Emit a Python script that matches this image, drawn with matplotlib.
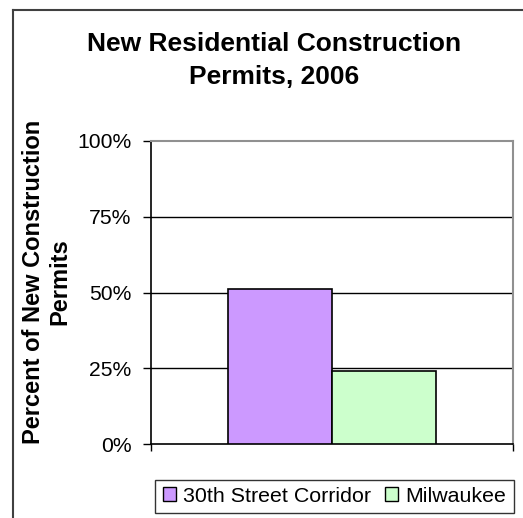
import matplotlib
matplotlib.use("Agg")
import matplotlib.pyplot as plt
from matplotlib.patches import Patch
from matplotlib.lines import Line2D

plt.rcParams['font.family'] = ['Liberation Sans', 'DejaVu Sans']

title = "New Residential Construction\nPermits, 2006"
ylabel = "Percent of New Construction\nPermits"
series = ["30th Street Corridor", "Milwaukee"]
values = [51.1, 24.1]
colors = ["#CC99FF", "#CCFFCC"]
yticks = [0, 25, 50, 75, 100]
yticklabels = ["0%", "25%", "50%", "75%", "100%"]

W, H = 523, 518
fig = plt.figure(figsize=(W / 100, H / 100), dpi=100)
ax = fig.add_axes([151 / W, 74 / H, 362 / W, 303 / H])

bw = 0.2873
offsets = [-bw / 2, bw / 2]
for name, v, c, off in zip(series, values, colors, offsets):
    ax.bar(off, v, width=bw, color=c, edgecolor="black", linewidth=1.2, label=name, zorder=3)

ax.set_xlim(-0.5, 0.5)
ax.set_ylim(0, 100)
ax.set_yticks(yticks)
ax.set_yticklabels(yticklabels, fontsize=15.2)
ax.tick_params(axis="y", direction="out", length=6, width=1, pad=8)
ax.set_xticks([-0.5, 0.5])
ax.set_xticklabels([])
ax.tick_params(axis="x", direction="out", length=5, width=1)
for y in [25, 50, 75]:
    ax.axhline(y, color="black", linewidth=1, zorder=1)
for s in ["left", "bottom"]:
    ax.spines[s].set_color("black")
    ax.spines[s].set_linewidth(1.2)
for s in ["top", "right"]:
    ax.spines[s].set_color("#909090")
    ax.spines[s].set_linewidth(1.5)

fig.text(274 / W, 1 - 60.5 / H, title, ha="center", va="center", fontsize=19,
         fontweight="bold", linespacing=1.5)
fig.text(47 / W, 1 - 282 / H, ylabel, ha="center", va="center", rotation=90,
         fontsize=17, fontweight="bold", linespacing=1.2, multialignment="center")

handles = [Patch(facecolor=c, edgecolor="black", linewidth=1) for c in colors]
leg = fig.legend(handles, series, loc="center", bbox_to_anchor=(334.5 / W, 1 - 496.5 / H),
                 ncol=2, fontsize=15.4, frameon=True, fancybox=False, edgecolor="black",
                 handlelength=0.63, handleheight=0.63, handletextpad=0.33,
                 columnspacing=0.65, borderpad=0.35, borderaxespad=0)
leg.get_frame().set_linewidth(1)

# figure border (left and top)
fig.add_artist(Line2D([13 / W, 13 / W], [0, 1 - 10 / H], color="#404040", linewidth=1.5))
fig.add_artist(Line2D([13 / W, 1], [1 - 10 / H, 1 - 10 / H], color="#404040", linewidth=1.5))

fig.savefig("out.png", dpi=100, facecolor="white")
